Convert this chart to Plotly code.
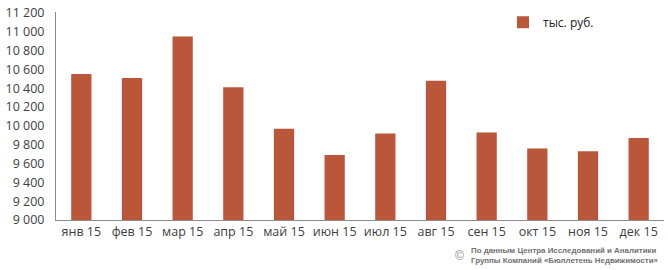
import plotly.graph_objects as go

months = ["янв 15", "фев 15", "мар 15", "апр 15", "май 15", "июн 15",
          "июл 15", "авг 15", "сен 15", "окт 15", "ноя 15", "дек 15"]
values = [10550, 10510, 10950, 10410, 9970, 9690, 9920, 10480, 9930, 9760, 9730, 9870]
series_name = "тыс. руб."
y_ticks = [9000, 9200, 9400, 9600, 9800, 10000, 10200, 10400, 10600, 10800, 11000, 11200]
y_tick_labels = ["9 000", "9 200", "9 400", "9 600", "9 800", "10 000", "10 200",
                 "10 400", "10 600", "10 800", "11 000", "11 200"]
footnote = "<b>По данным Центра Исследований и Аналитики<br>Группы Компаний «Бюллетень Недвижимости»</b>"

bar_color = "#BA573B"
text_color = "#404040"
axis_color = "#8C8C8C"

L, R, T, B = 56, 4, 8, 50
PW = 668 - L - R
PH = 270 - T - B

def px(x):
    return (x - L) / PW

def py(y):
    return (270 - B - y) / PH

fig = go.Figure()
fig.add_trace(go.Bar(x=months, y=values, name=series_name, marker_color=bar_color,
                     marker_line_width=0, showlegend=True))

fig.update_layout(
    width=668, height=270,
    margin=dict(l=L, r=R, t=T, b=B),
    plot_bgcolor="white", paper_bgcolor="white",
    bargap=0.6,
    font=dict(family="Open Sans", size=12, color=text_color),
    legend=dict(x=px(503), y=1.02, xanchor="left", yanchor="top",
                bgcolor="rgba(0,0,0,0)", font=dict(size=12, color="#222222")),
    xaxis=dict(showline=True, linecolor=axis_color, linewidth=1, ticks="",
               showgrid=False, tickfont=dict(size=12.5, color=text_color)),
    yaxis=dict(range=[9000, 11210], tickvals=y_ticks, ticktext=y_tick_labels,
               showline=True, linecolor=axis_color, linewidth=1, ticks="",
               showgrid=False, zeroline=False, ticklabelstandoff=8,
               tickfont=dict(size=12.5, color=text_color)),
    annotations=[
        dict(text="©", x=px(453), y=py(257), xref="paper", yref="paper",
             xanchor="left", yanchor="middle", showarrow=False,
             font=dict(family="Liberation Sans", size=12, color="#8a8a8a")),
        dict(text=footnote, x=px(469), y=py(244), xref="paper", yref="paper",
             xanchor="left", yanchor="top", align="left", showarrow=False,
             font=dict(family="Liberation Sans", size=7.9, color="#707070")),
    ],
)
fig.write_html("out.html")
